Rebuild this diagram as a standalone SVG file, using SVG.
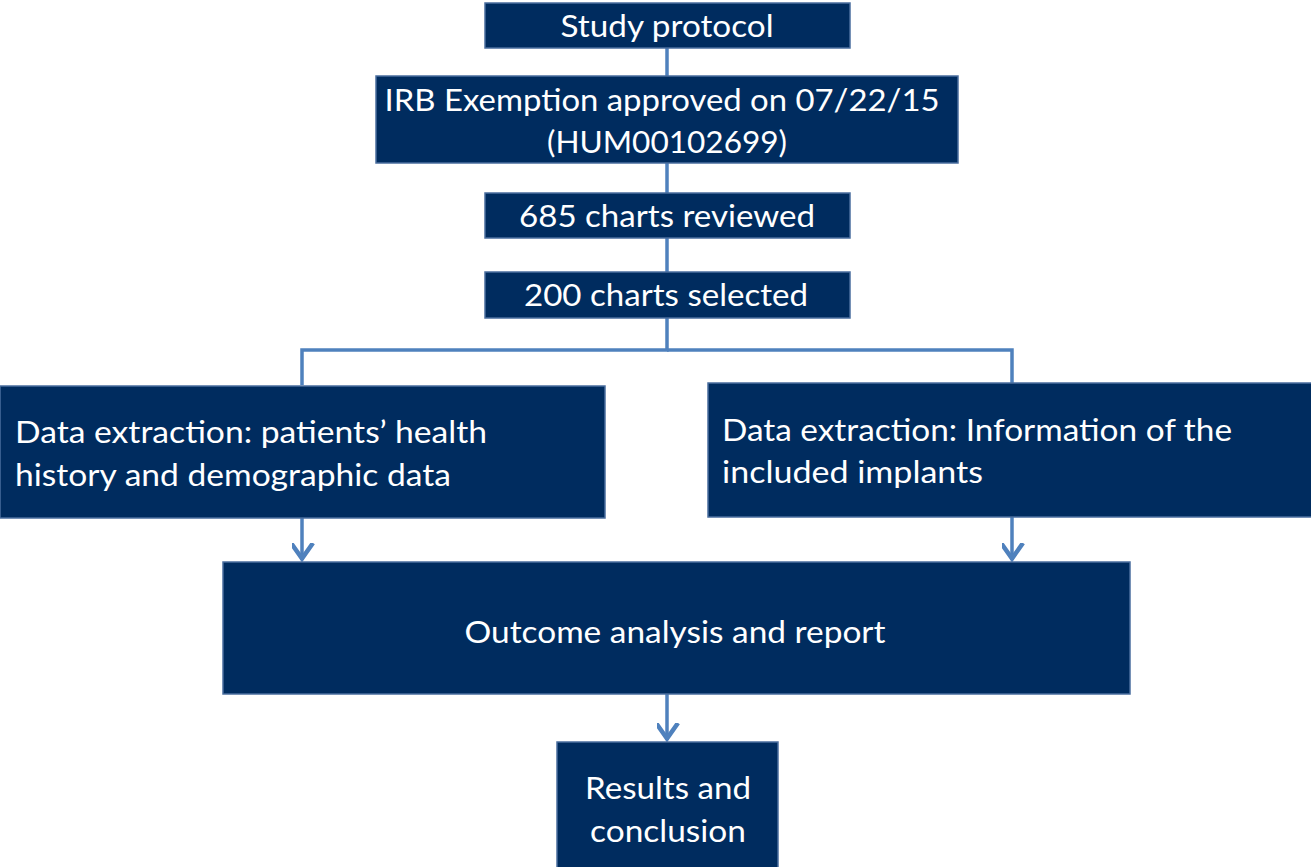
<svg xmlns="http://www.w3.org/2000/svg" width="1311" height="867" viewBox="0 0 1311 867">
<style>
.box{fill:#002C5F;stroke:#4A6E9E;stroke-width:1.5}
.t{font-family:Lato,"Open Sans","Liberation Sans",sans-serif;font-size:31px;fill:#FFFFFF}
.c{fill:none;stroke:#4F81BD;stroke-width:3.5}
</style>
<defs>
<marker id="arr" markerUnits="userSpaceOnUse" markerWidth="34" markerHeight="34" viewBox="-17 -24 34 34" refX="0" refY="0" orient="auto-start-reverse">
<path d="M-11,-17 L0,-1.5 L11,-17" transform="rotate(-90)" fill="none" stroke="#4F81BD" stroke-width="4.5" stroke-linejoin="miter"/>
</marker>
</defs>
<g id="connectors">
<line class="c" x1="667" y1="48" x2="667" y2="76"/>
<line class="c" x1="667" y1="163" x2="667" y2="193"/>
<line class="c" x1="667" y1="238" x2="667" y2="272"/>
<polyline class="c" points="667,318 667,350 302,350 302,385"/>
<polyline class="c" points="667,350 1012,350 1012,383"/>
<line class="c" x1="302" y1="518" x2="302" y2="560" marker-end="url(#arr)"/>
<line class="c" x1="1012" y1="517" x2="1012" y2="560" marker-end="url(#arr)"/>
<line class="c" x1="667" y1="694" x2="667" y2="740" marker-end="url(#arr)"/>
</g>
<g id="study-protocol">
<rect class="box" x="485" y="3" width="365" height="45"/>
<text class="t" x="667" y="37" text-anchor="middle" textLength="213" lengthAdjust="spacingAndGlyphs">Study protocol</text>
</g>
<g id="irb">
<rect class="box" x="376" y="76" width="582" height="87"/>
<text class="t" x="662" y="111" text-anchor="middle" textLength="555" lengthAdjust="spacingAndGlyphs">IRB Exemption approved on 07/22/15</text>
<text class="t" x="667" y="153" text-anchor="middle" textLength="240" lengthAdjust="spacingAndGlyphs">(HUM00102699)</text>
</g>
<g id="charts-reviewed">
<rect class="box" x="485" y="193" width="365" height="45"/>
<text class="t" x="667" y="227" text-anchor="middle" textLength="296" lengthAdjust="spacingAndGlyphs">685 charts reviewed</text>
</g>
<g id="charts-selected">
<rect class="box" x="485" y="272" width="365" height="46"/>
<text class="t" x="666" y="306" text-anchor="middle" textLength="284" lengthAdjust="spacingAndGlyphs">200 charts selected</text>
</g>
<g id="extraction-health">
<rect class="box" x="0" y="386" width="605" height="132"/>
<text class="t" x="15" y="443" textLength="472" lengthAdjust="spacingAndGlyphs">Data extraction: patients’ health</text>
<text class="t" x="15" y="486" textLength="436" lengthAdjust="spacingAndGlyphs">history and demographic data</text>
</g>
<g id="extraction-implants">
<rect class="box" x="708" y="383" width="604" height="134"/>
<text class="t" x="722" y="441" textLength="510" lengthAdjust="spacingAndGlyphs">Data extraction: Information of the</text>
<text class="t" x="722" y="483" textLength="261" lengthAdjust="spacingAndGlyphs">included implants</text>
</g>
<g id="outcome">
<rect class="box" x="223" y="562" width="907" height="132"/>
<text class="t" x="675" y="643" text-anchor="middle" textLength="421" lengthAdjust="spacingAndGlyphs">Outcome analysis and report</text>
</g>
<g id="results">
<rect class="box" x="557" y="742" width="221" height="130"/>
<text class="t" x="668" y="799" text-anchor="middle" textLength="166" lengthAdjust="spacingAndGlyphs">Results and</text>
<text class="t" x="668" y="842" text-anchor="middle" textLength="156" lengthAdjust="spacingAndGlyphs">conclusion</text>
</g>
</svg>
